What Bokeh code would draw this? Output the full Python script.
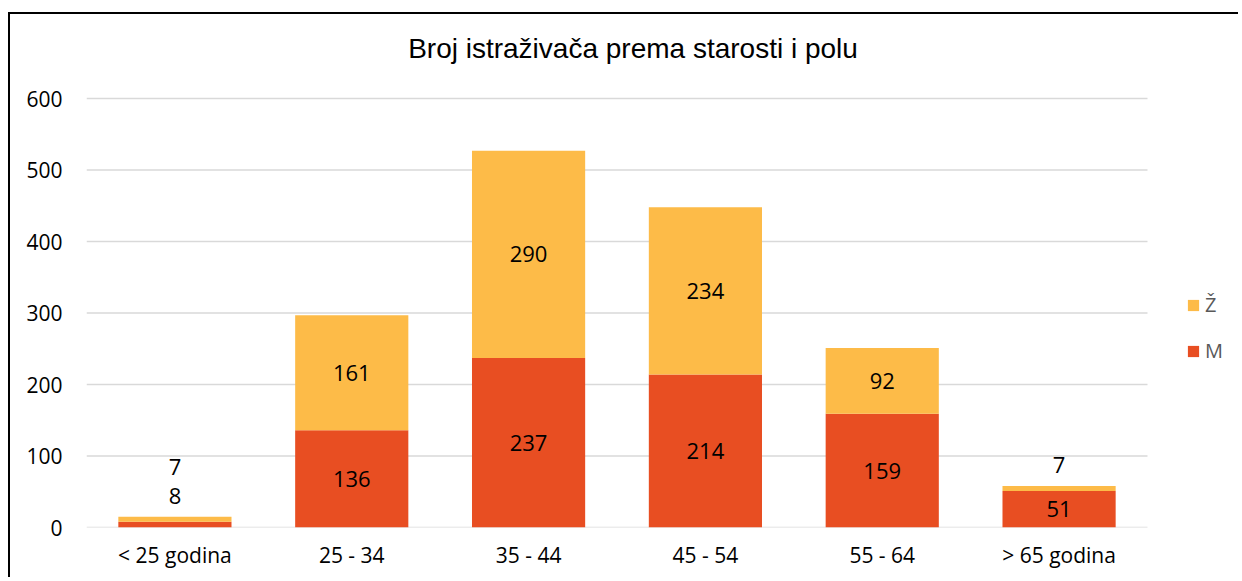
from bokeh.plotting import figure
from bokeh.models import ColumnDataSource, Range1d, Legend, LegendItem, LabelSet, Label, FixedTicker
from bokeh.core.properties import value
from bokeh.embed import file_html
from bokeh.resources import INLINE

title_text = "Broj istraživača prema starosti i polu"
categories = ["< 25 godina", "25 - 34", "35 - 44", "45 - 54", "55 - 64", "> 65 godina"]
m_values = [8, 136, 237, 214, 159, 51]
z_values = [7, 161, 290, 234, 92, 7]
y_ticks = [0, 100, 200, 300, 400, 500, 600]

M_COLOR = "#E84E22"
Z_COLOR = "#FDBB48"
FONT = "Open Sans"

W, H = 1230, 565
n = len(categories)
xs = list(range(n))
# plot area spans the categories plus a strip on the right (legend) and the top (title)
x_end = (n - 0.5) + 0.526
y_end = 717.5
p = figure(x_range=Range1d(-0.5, x_end), y_range=Range1d(0, y_end),
           width=W, height=H, output_backend="svg", toolbar_location=None,
           min_border_left=76, min_border_right=0, min_border_top=0, min_border_bottom=52)
# outer chart frame: only its left and top edges fall inside the window
p.styles = {"border-top": "2px solid #000", "border-left": "2px solid #000",
            "margin-top": "12px", "margin-left": "8px"}

# horizontal gridlines limited to the category area
p.segment(x0=[-0.5] * len(y_ticks), x1=[n - 0.5] * len(y_ticks), y0=y_ticks, y1=y_ticks,
          line_color="#D9D9D9", line_width=1.5)

src = ColumnDataSource(dict(x=xs, M=m_values, Z=z_values))
r = p.vbar_stack(["M", "Z"], x="x", width=0.64, source=src, color=[M_COLOR, Z_COLOR], line_color=None)

# labels: centered in segment when big enough, otherwise stacked above bar
lab_x, lab_y, lab_t, lab_off = [], [], [], []
for i, mv, zv in zip(xs, m_values, z_values):
    total = mv + zv
    slot = 0
    for lo, v in ((0, mv), (mv, zv)):
        lab_x.append(i)
        lab_t.append(str(v))
        if v >= 20:
            lab_y.append(lo + v / 2)
            lab_off.append(0)
        else:
            lab_y.append(total)
            lab_off.append(21 + 29 * slot)
            slot += 1
lsrc = ColumnDataSource(dict(x=lab_x, y=lab_y, t=lab_t, off=lab_off))
p.add_layout(LabelSet(x="x", y="y", text="t", y_offset="off", source=lsrc, text_align="center",
                      text_baseline="middle", text_font=value(FONT), text_font_size="22px",
                      text_color="#000000"))

# chart title
p.add_layout(Label(x=(n - 1) / 2, y=y_ticks[-1], x_offset=16, y_offset=50, text=title_text,
                   text_align="center", text_baseline="middle", text_font="Liberation Sans",
                   text_font_size="28px", text_color="#000000"))

p.xaxis.ticker = FixedTicker(ticks=xs)
p.xaxis.major_label_overrides = {i: c for i, c in zip(xs, categories)}
p.yaxis.ticker = FixedTicker(ticks=y_ticks)
for ax in (p.xaxis[0], p.yaxis[0]):
    ax.axis_line_color = None
    ax.major_tick_line_color = None
    ax.minor_tick_line_color = None
    ax.major_tick_out = 0
    ax.major_tick_in = 0
    ax.major_label_text_font = FONT
    ax.major_label_text_font_size = "21px"
    ax.major_label_text_color = "#000000"
p.yaxis.major_label_standoff = 24
p.xaxis.major_label_standoff = 13
p.xgrid.grid_line_color = None
p.ygrid.grid_line_color = None
p.outline_line_color = None

legend = Legend(items=[LegendItem(label="Ž", renderers=[r[1]]), LegendItem(label="M", renderers=[r[0]])],
                location=(1100, 163), glyph_width=14, glyph_height=14, spacing=19,
                label_text_font=FONT, label_text_font_size="20px", label_text_color="#595959",
                border_line_color=None, background_fill_alpha=0, padding=0, margin=0,
                label_standoff=5, label_width=20)
p.add_layout(legend, "center")

open("out.html", "w").write(file_html(p, INLINE))
